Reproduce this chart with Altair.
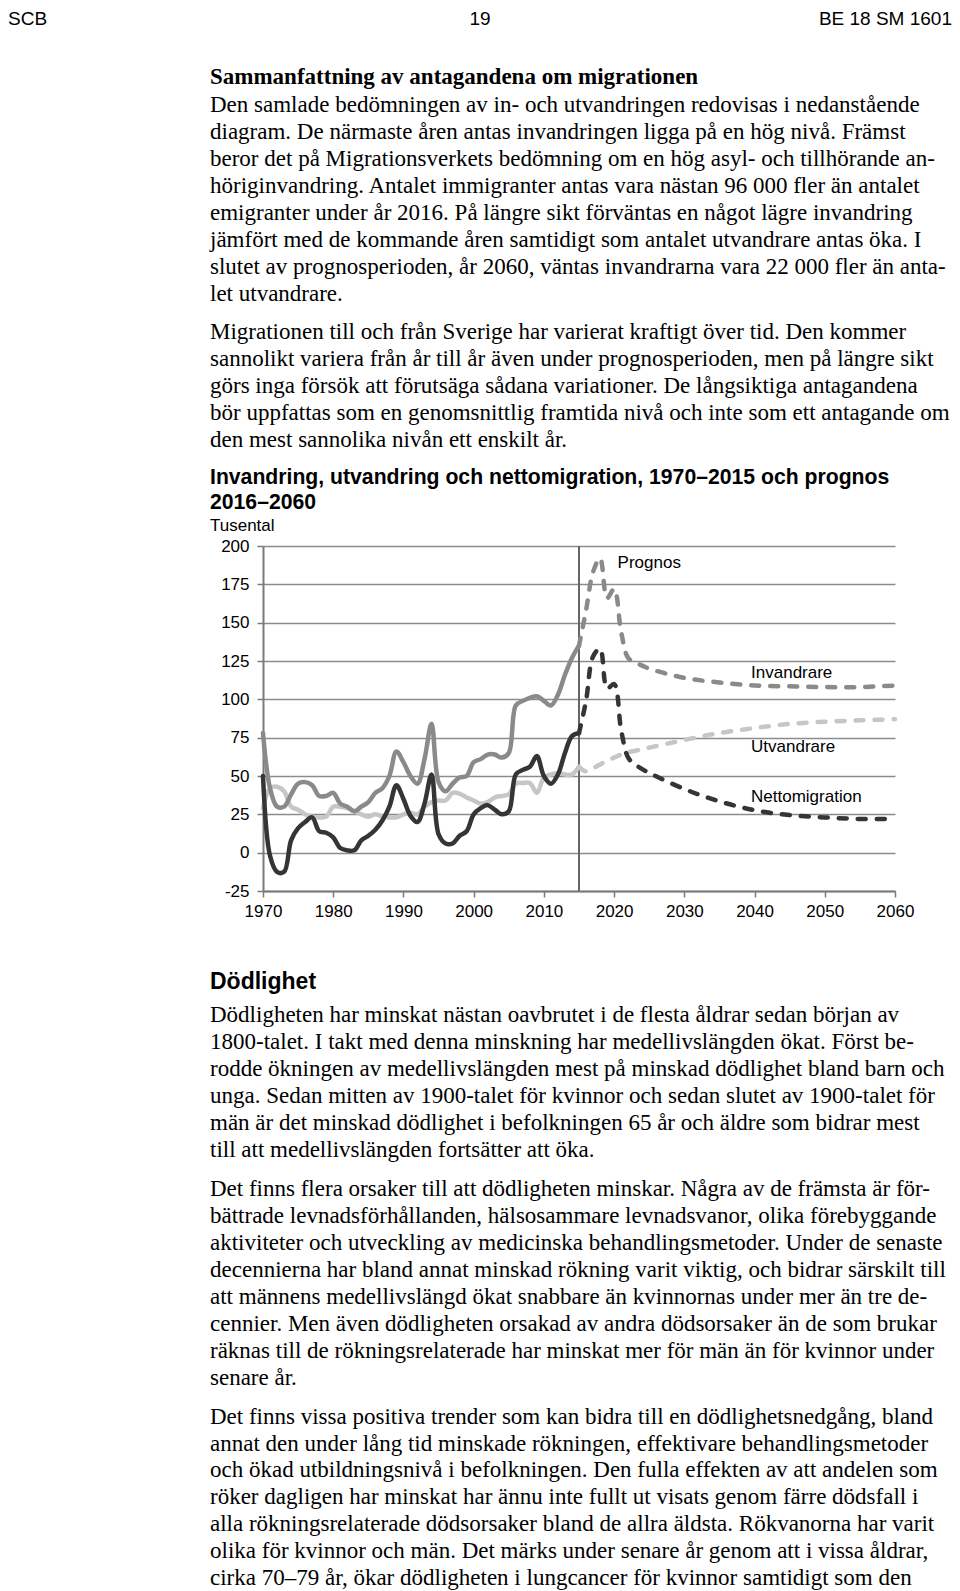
import altair as alt
import pandas as pd

# ---------------- data ----------------
years_hist = list(range(1970, 2016))
invandring_hist = [78, 42, 30, 30, 38, 45, 46, 44, 37, 37,
                   39, 32, 30, 27, 30, 33, 39, 42, 50, 66,
                   59, 50, 45, 61, 84, 46, 40, 45, 49, 50,
                   59, 61, 64, 64, 62, 65, 96, 99, 101, 102,
                   99, 96, 103, 116, 127, 135]
utvandring_hist = [29, 42, 43, 40, 30, 28, 25, 23.5, 23, 23.5,
                   30, 30, 29, 27, 25, 23.5, 25, 23.5, 23, 23,
                   25, 26, 25, 30, 33, 34, 34, 39, 38.5, 36,
                   34, 32, 33, 36, 37, 38, 45, 45.5, 45.5, 39,
                   49, 51, 52, 51, 51, 56]
netto_hist = [50, -2, -12.5, -12.5, 8, 16, 20, 23, 14, 13,
              10, 3, 1.5, 1.5, 8, 11, 15, 21, 30, 44,
              35, 24, 20, 32, 51, 12, 6, 6, 11, 14,
              25, 29, 31, 28, 25, 27, 51, 54, 56, 63,
              50, 45, 51, 65, 76, 78]

years_prog = [2015, 2016, 2017, 2018, 2019, 2020, 2021, 2022, 2023, 2024,
              2025, 2030, 2035, 2040, 2045, 2050, 2055, 2060]
invandring_prog = [135, 158, 183, 192, 166, 172, 144, 127, 124, 122,
                   120, 114, 111, 109, 108.5, 108, 108, 109]
utvandring_prog = [56, 53, 55, 57.5, 60, 62, 64, 65.5, 66.5, 67.5,
                   68.5, 73.5, 78, 81.3, 84, 85.4, 86.3, 87]
netto_prog = [78, 99, 128, 133, 107, 110, 80, 62, 57.5, 54.5,
              52, 41.5, 33.5, 27.7, 24.5, 23, 22, 22]

series_labels = ["Prognos", "Invandrare", "Utvandrare", "Nettomigration"]
label_years = [2020.5, 2039.5, 2039.5, 2039.5]
label_values = [189, 117.3, 69, 36.5]

x_ticks = list(range(1970, 2061, 10))
y_ticks = list(range(-25, 201, 25))

header = ["SCB", "19", "BE 18 SM 1601"]
heading1 = "Sammanfattning av antagandena om migrationen"
para1 = [
    "Den samlade bedömningen av in- och utvandringen redovisas i nedanstående",
    "diagram. De närmaste åren antas invandringen ligga på en hög nivå. Främst",
    "beror det på Migrationsverkets bedömning om en hög asyl- och tillhörande an-",
    "höriginvandring. Antalet immigranter antas vara nästan 96 000 fler än antalet",
    "emigranter under år 2016. På längre sikt förväntas en något lägre invandring",
    "jämfört med de kommande åren samtidigt som antalet utvandrare antas öka. I",
    "slutet av prognosperioden, år 2060, väntas invandrarna vara 22 000 fler än anta-",
    "let utvandrare.",
]
para2 = [
    "Migrationen till och från Sverige har varierat kraftigt över tid. Den kommer",
    "sannolikt variera från år till år även under prognosperioden, men på längre sikt",
    "görs inga försök att förutsäga sådana variationer. De långsiktiga antagandena",
    "bör uppfattas som en genomsnittlig framtida nivå och inte som ett antagande om",
    "den mest sannolika nivån ett enskilt år.",
]
chart_title = ["Invandring, utvandring och nettomigration, 1970–2015 och prognos", "2016–2060"]
y_unit = "Tusental"
heading2 = "Dödlighet"
para3 = [
    "Dödligheten har minskat nästan oavbrutet i de flesta åldrar sedan början av",
    "1800-talet. I takt med denna minskning har medellivslängden ökat. Först be-",
    "rodde ökningen av medellivslängden mest på minskad dödlighet bland barn och",
    "unga. Sedan mitten av 1900-talet för kvinnor och sedan slutet av 1900-talet för",
    "män är det minskad dödlighet i befolkningen 65 år och äldre som bidrar mest",
    "till att medellivslängden fortsätter att öka.",
]
para4 = [
    "Det finns flera orsaker till att dödligheten minskar. Några av de främsta är för-",
    "bättrade levnadsförhållanden, hälsosammare levnadsvanor, olika förebyggande",
    "aktiviteter och utveckling av medicinska behandlingsmetoder. Under de senaste",
    "decennierna har bland annat minskad rökning varit viktig, och bidrar särskilt till",
    "att männens medellivslängd ökat snabbare än kvinnornas under mer än tre de-",
    "cennier. Men även dödligheten orsakad av andra dödsorsaker än de som brukar",
    "räknas till de rökningsrelaterade har minskat mer för män än för kvinnor under",
    "senare år.",
]
para5 = [
    "Det finns vissa positiva trender som kan bidra till en dödlighetsnedgång, bland",
    "annat den under lång tid minskade rökningen, effektivare behandlingsmetoder",
    "och ökad utbildningsnivå i befolkningen. Den fulla effekten av att andelen som",
    "röker dagligen har minskat har ännu inte fullt ut visats genom färre dödsfall i",
    "alla rökningsrelaterade dödsorsaker bland de allra äldsta. Rökvanorna har varit",
    "olika för kvinnor och män. Det märks under senare år genom att i vissa åldrar,",
    "cirka 70–79 år, ökar dödligheten i lungcancer för kvinnor samtidigt som den",
]

# ---------------- layout ----------------
SERIF = "Liberation Serif"
SANS = "Liberation Sans"
BODY = 23
W, H = 632, 345
PAD_L, PAD_T = 255, 538
TOTAL_W, TOTAL_H = 944, 1583
OX, OY = 8 + PAD_L, 8 + PAD_T   # page position of plot origin

x_scale = alt.Scale(domain=[1970, 2060], nice=False, zero=False)
y_scale = alt.Scale(domain=[-25, 200], nice=False, zero=False)

x_axis = alt.Axis(values=x_ticks, format="d", grid=False, title=None,
                  domainColor="#7a7a7a", domainWidth=2, tickColor="#7a7a7a",
                  tickWidth=1.5, tickSize=6, labelFont=SANS, labelFontSize=17,
                  labelColor="#000000", labelPadding=6, labelFlush=False)
y_axis = alt.Axis(values=y_ticks, labelExpr="'' + datum.value", grid=True,
                  gridColor="#8c8c8c", gridWidth=1.5, title=None,
                  domainColor="#7a7a7a", domainWidth=2,
                  tickColor="#7a7a7a", tickWidth=1.5, tickSize=6, labelFont=SANS,
                  labelFontSize=17, labelColor="#000000", labelPadding=8)


def line_layer(years, vals, color, dashed):
    df = pd.DataFrame({"year": years, "value": vals})
    kw = dict(color=color, strokeWidth=4.5, interpolate="catmull-rom",
              strokeCap="round", strokeJoin="round")
    if dashed:
        kw["strokeDash"] = [8, 11]
    return alt.Chart(df).mark_line(**kw).encode(
        x=alt.X("year:Q", scale=x_scale, axis=x_axis),
        y=alt.Y("value:Q", scale=y_scale, axis=y_axis),
    )


def txt(s, px, py, size, font, weight="normal", align="left"):
    return alt.Chart(pd.DataFrame({"t": [s]})).mark_text(
        align=align, baseline="middle", font=font, fontSize=size,
        fontWeight=weight, color="#000000"
    ).encode(text="t:N", x=alt.value(px - OX), y=alt.value(py - OY))


C_INV, C_UTV, C_NET = "#8a8a8a", "#c6c6c6", "#353535"

layers = [
    line_layer(years_hist, utvandring_hist, C_UTV, False),
    line_layer(years_prog, utvandring_prog, C_UTV, True),
    line_layer(years_hist, invandring_hist, C_INV, False),
    line_layer(years_prog, invandring_prog, C_INV, True),
    line_layer(years_hist, netto_hist, C_NET, False),
    line_layer(years_prog, netto_prog, C_NET, True),
]

rule = alt.Chart(pd.DataFrame({"year": [2015]})).mark_rule(
    color="#666666", strokeWidth=2
).encode(x=alt.X("year:Q", scale=x_scale, axis=x_axis),
         y=alt.value(0), y2=alt.value(H))
layers.insert(0, rule)

ann = pd.DataFrame({"label": series_labels, "year": label_years, "value": label_values})
layers.append(
    alt.Chart(ann).mark_text(align="left", baseline="middle", font=SANS,
                             fontSize=17, color="#000000").encode(
        x=alt.X("year:Q", scale=x_scale, axis=x_axis),
        y=alt.Y("value:Q", scale=y_scale, axis=y_axis),
        text="label:N",
    )
)

# page header
HY = 19
layers.append(txt(header[0], 8, HY, 19, SANS, align="left"))
layers.append(txt(header[1], 480, HY, 19, SANS, align="center"))
layers.append(txt(header[2], 952, HY, 19, SANS, align="right"))

LX = 210
STEP = 27.05
layers.append(txt(heading1, LX, 77.3, BODY, SERIF, "bold"))
for i, s in enumerate(para1):
    layers.append(txt(s, LX, 104.5 + i * STEP, BODY, SERIF))
for i, s in enumerate(para2):
    layers.append(txt(s, LX, 331.8 + i * STEP, BODY, SERIF))
layers.append(txt(chart_title[0], LX, 477.5, 21.2, SANS, "bold"))
layers.append(txt(chart_title[1], LX, 502.5, 21.2, SANS, "bold"))
layers.append(txt(y_unit, LX, 526, 17, SANS))
layers.append(txt(heading2, LX, 982.3, 23, SANS, "bold"))
for i, s in enumerate(para3):
    layers.append(txt(s, LX, 1014.8 + i * STEP, BODY, SERIF))
for i, s in enumerate(para4):
    layers.append(txt(s, LX, 1189.3 + i * 26.9, BODY, SERIF))
for i, s in enumerate(para5):
    layers.append(txt(s, LX, 1416.6 + i * 26.9, BODY, SERIF))

chart = alt.layer(*layers).properties(
    width=W, height=H,
    autosize=alt.AutoSizeParams(type="none"),
    padding={"left": PAD_L, "top": PAD_T, "right": TOTAL_W - PAD_L - W,
             "bottom": TOTAL_H - PAD_T - H},
    background="white",
).configure_view(stroke=None)

chart.save("out.html", embed_options={"renderer": "svg", "actions": False})
